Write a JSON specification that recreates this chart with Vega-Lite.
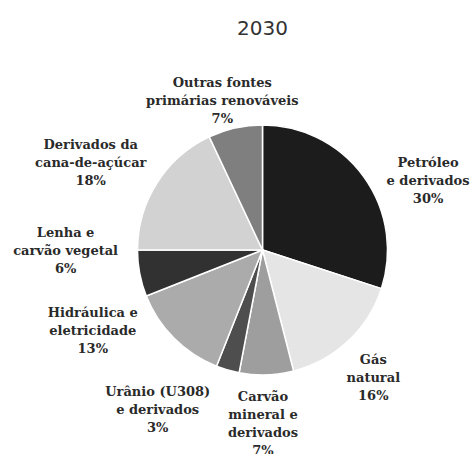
{
  "$schema": "https://vega.github.io/schema/vega-lite/v6.json",
  "autosize": {"type": "none"},
  "width": 425,
  "height": 408,
  "padding": {"left": 50, "top": 46, "right": 0, "bottom": 0},
  "background": "white",
  "title": {"text": "2030", "fontSize": 20, "font": "DejaVu Sans", "fontWeight": "normal", "color": "#333333", "anchor": "middle", "frame": "group", "offset": -27},
  "data": {"values": [
    {"fonte": "Petróleo e derivados", "label": "Petróleo\ne derivados\n30%", "pct": 30, "ordem": 1},
    {"fonte": "Gás natural", "label": "Gás\nnatural\n16%", "pct": 16, "ordem": 2},
    {"fonte": "Carvão mineral e derivados", "label": "Carvão\nmineral e\nderivados\n7%", "pct": 7, "ordem": 3},
    {"fonte": "Urânio (U308) e derivados", "label": "Urânio (U308)\ne derivados\n3%", "pct": 3, "ordem": 4},
    {"fonte": "Hidráulica e eletricidade", "label": "Hidráulica e\neletricidade\n13%", "pct": 13, "ordem": 5},
    {"fonte": "Lenha e carvão vegetal", "label": "Lenha e\ncarvão vegetal\n6%", "pct": 6, "ordem": 6},
    {"fonte": "Derivados da cana-de-açúcar", "label": "Derivados da\ncana-de-açúcar\n18%", "pct": 18, "ordem": 7},
    {"fonte": "Outras fontes primárias renováveis", "label": "Outras fontes\nprimárias  renováveis\n7%", "pct": 7, "ordem": 8}
  ]},
  "encoding": {
    "theta": {"field": "pct", "type": "quantitative", "stack": true},
    "order": {"field": "ordem", "type": "quantitative"}
  },
  "layer": [
    {
      "mark": {"type": "arc", "outerRadius": 125, "stroke": "white", "strokeWidth": 1.5},
      "encoding": {
        "color": {
          "field": "fonte", "type": "nominal", "legend": null,
          "scale": {
            "domain": ["Petróleo e derivados", "Gás natural", "Carvão mineral e derivados", "Urânio (U308) e derivados", "Hidráulica e eletricidade", "Lenha e carvão vegetal", "Derivados da cana-de-açúcar", "Outras fontes primárias renováveis"],
            "range": ["#1c1c1c", "#e5e5e5", "#9e9e9e", "#4e4e4e", "#ababab", "#313131", "#d2d2d2", "#7f7f7f"]
          }
        }
      }
    },
    {
      "mark": {"type": "text", "radius": 175, "dx": 24, "dy": 16, "lineBreak": "\n", "font": "DejaVu Serif", "fontWeight": "bold", "fontSize": 13, "lineHeight": 18, "color": "#2a2a2a", "align": "center", "baseline": "middle"},
      "encoding": {"text": {"condition": {"test": "datum.ordem == 1", "field": "label"}, "value": ""}}
    },
    {
      "mark": {"type": "text", "radius": 175, "dx": -9, "dy": -18, "lineBreak": "\n", "font": "DejaVu Serif", "fontWeight": "bold", "fontSize": 13, "lineHeight": 18, "color": "#2a2a2a", "align": "center", "baseline": "middle"},
      "encoding": {"text": {"condition": {"test": "datum.ordem == 2", "field": "label"}, "value": ""}}
    },
    {
      "mark": {"type": "text", "radius": 175, "dx": -5, "dy": -28, "lineBreak": "\n", "font": "DejaVu Serif", "fontWeight": "bold", "fontSize": 13, "lineHeight": 18, "color": "#2a2a2a", "align": "center", "baseline": "middle"},
      "encoding": {"text": {"condition": {"test": "datum.ordem == 3", "field": "label"}, "value": ""}}
    },
    {
      "mark": {"type": "text", "radius": 175, "dx": -56, "dy": -26, "lineBreak": "\n", "font": "DejaVu Serif", "fontWeight": "bold", "fontSize": 13, "lineHeight": 18, "color": "#2a2a2a", "align": "center", "baseline": "middle"},
      "encoding": {"text": {"condition": {"test": "datum.ordem == 4", "field": "label"}, "value": ""}}
    },
    {
      "mark": {"type": "text", "radius": 175, "dx": -46, "dy": -61, "lineBreak": "\n", "font": "DejaVu Serif", "fontWeight": "bold", "fontSize": 13, "lineHeight": 18, "color": "#2a2a2a", "align": "center", "baseline": "middle"},
      "encoding": {"text": {"condition": {"test": "datum.ordem == 5", "field": "label"}, "value": ""}}
    },
    {
      "mark": {"type": "text", "radius": 175, "dx": -25, "dy": -50, "lineBreak": "\n", "font": "DejaVu Serif", "fontWeight": "bold", "fontSize": 13, "lineHeight": 18, "color": "#2a2a2a", "align": "center", "baseline": "middle"},
      "encoding": {"text": {"condition": {"test": "datum.ordem == 6", "field": "label"}, "value": ""}}
    },
    {
      "mark": {"type": "text", "radius": 175, "dx": -24, "dy": -11, "lineBreak": "\n", "font": "DejaVu Serif", "fontWeight": "bold", "fontSize": 13, "lineHeight": 18, "color": "#2a2a2a", "align": "center", "baseline": "middle"},
      "encoding": {"text": {"condition": {"test": "datum.ordem == 7", "field": "label"}, "value": ""}}
    },
    {
      "mark": {"type": "text", "radius": 175, "dx": -2, "dy": 4, "lineBreak": "\n", "font": "DejaVu Serif", "fontWeight": "bold", "fontSize": 13, "lineHeight": 18, "color": "#2a2a2a", "align": "center", "baseline": "middle"},
      "encoding": {"text": {"condition": {"test": "datum.ordem == 8", "field": "label"}, "value": ""}}
    }
  ]
}
